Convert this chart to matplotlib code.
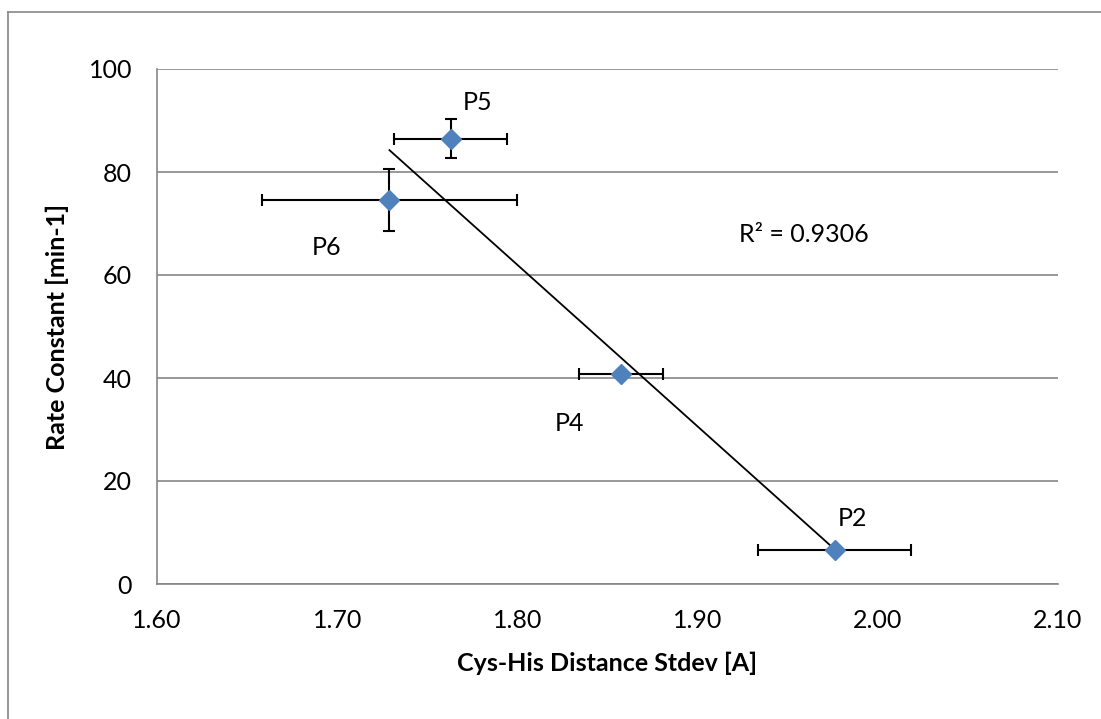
import numpy as np
import matplotlib.pyplot as plt
from matplotlib.lines import Line2D

plt.rcParams['font.family'] = ['Lato', 'DejaVu Sans']

# peptide data
names = ['P5', 'P6', 'P4', 'P2']
stdev = np.array([1.763, 1.729, 1.8575, 1.976])
rate = np.array([86.5, 74.6, 40.8, 6.6])
stdev_err = np.array([0.0315, 0.0707, 0.0231, 0.0427])
rate_err = np.array([3.7, 5.96, 0.6, 0.6])
label_off = [(19, 26), (-45, -34), (-37, -36), (13, 23)]
r2_text = 'R² = 0.9306'

xticks = [1.60, 1.70, 1.80, 1.90, 2.00, 2.10]
yticks = [0, 20, 40, 60, 80, 100]

fig = plt.figure(figsize=(11.01, 7.19), dpi=100)
ax = fig.add_axes([157/1101, 1-584/719, (1058-157)/1101, (584-69)/719])

grey = '#868686'
ax.grid(axis='y', color=grey, lw=1.2)
ax.set_axisbelow(True)

# linear trendline over the data range
m, b = np.polyfit(stdev, rate, 1)
xx = np.array([stdev.min(), stdev.max()])
ax.plot(xx, m*xx + b, color='black', lw=1.3, zorder=2)

ax.errorbar(stdev, rate, xerr=stdev_err, yerr=rate_err, fmt='none',
            ecolor='black', elinewidth=1.5, capsize=4, capthick=1.5, zorder=3)
ax.plot(stdev, rate, 'D', color='#4F81BD', ms=10, mec='#4F81BD', zorder=4)

for n, x, y, off in zip(names, stdev, rate, label_off):
    ax.annotate(n, (x, y), xytext=off, textcoords='offset points',
                ha='center', va='center', fontsize=18)

ax.text(1.959, 67.8, r2_text, ha='center', va='center', fontsize=18)

ax.set_xlim(1.60, 2.10)
ax.set_ylim(0, 100)
ax.set_xticks(xticks)
ax.set_xticklabels(['%.2f' % t for t in xticks])
ax.set_yticks(yticks)
ax.tick_params(length=0, labelsize=18, pad=18)
for s in ['top', 'right']:
    ax.spines[s].set_visible(False)
for s in ['left', 'bottom']:
    ax.spines[s].set_color(grey)
    ax.spines[s].set_linewidth(1.2)

ax.set_xlabel('Cys-His Distance Stdev [A]', fontsize=18, fontweight='bold', labelpad=14)
ax.set_ylabel('Rate Constant [min-1]', fontsize=18, fontweight='bold', labelpad=14)

# outer chart border (left and top edges visible)
fig.add_artist(Line2D([8/1101, 8/1101], [0, 1-12/719], color='#878787', lw=1.2))
fig.add_artist(Line2D([8/1101, 1], [1-12/719, 1-12/719], color='#878787', lw=1.2))

fig.savefig('out.png', dpi=100)
